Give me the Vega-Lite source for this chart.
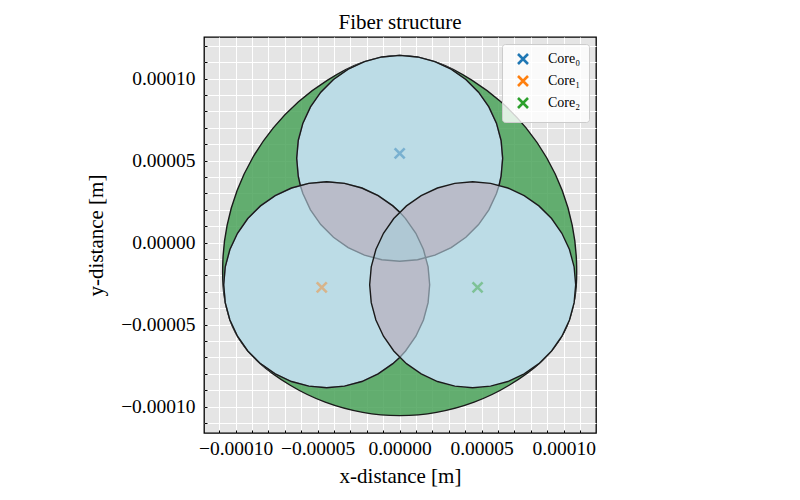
{
"$schema": "https://vega.github.io/schema/vega-lite/v6.json",
"width": 392, "height": 396,
"autosize": {"type": "none"},
"padding": {"left": 204, "top": 37, "right": 204, "bottom": 67},
"title": "Fiber structure",
"datasets": {
"shapes": [
{"s":"CL","o":1,"x":0,"y":-10.55e-5},{"s":"CL","o":2,"x":2.25e-5,"y":-10.353e-5},{"s":"CL","o":3,"x":4.538e-5,"y":-9.73e-5},{"s":"CL","o":4,"x":6.673e-5,"y":-8.699e-5},{"s":"CL","o":5,"x":8.64e-5,"y":-7.25e-5},{"s":"CL","o":6,"x":10.011e-5,"y":-5.49e-5},{"s":"CL","o":7,"x":10.681e-5,"y":-3.362e-5},{"s":"CL","o":8,"x":10.781e-5,"y":-1.15e-5},{"s":"CL","o":9,"x":10.522e-5,"y":1.048e-5},{"s":"CL","o":10,"x":9.911e-5,"y":3.175e-5},{"s":"CL","o":11,"x":8.963e-5,"y":5.175e-5},{"s":"CL","o":12,"x":7.705e-5,"y":6.996e-5},{"s":"CL","o":13,"x":6.169e-5,"y":8.589e-5},{"s":"CL","o":14,"x":4.395e-5,"y":9.912e-5},{"s":"CL","o":15,"x":2.43e-5,"y":10.931e-5},{"s":"CL","o":16,"x":0,"y":11.42e-5},{"s":"CL","o":17,"x":-2.43e-5,"y":10.931e-5},{"s":"CL","o":18,"x":-4.395e-5,"y":9.912e-5},{"s":"CL","o":19,"x":-6.169e-5,"y":8.589e-5},{"s":"CL","o":20,"x":-7.705e-5,"y":6.996e-5},{"s":"CL","o":21,"x":-8.963e-5,"y":5.175e-5},{"s":"CL","o":22,"x":-9.911e-5,"y":3.175e-5},{"s":"CL","o":23,"x":-10.522e-5,"y":1.048e-5},{"s":"CL","o":24,"x":-10.781e-5,"y":-1.15e-5},{"s":"CL","o":25,"x":-10.681e-5,"y":-3.362e-5},{"s":"CL","o":26,"x":-10.011e-5,"y":-5.49e-5},{"s":"CL","o":27,"x":-8.64e-5,"y":-7.25e-5},{"s":"CL","o":28,"x":-6.673e-5,"y":-8.699e-5},{"s":"CL","o":29,"x":-4.538e-5,"y":-9.73e-5},{"s":"CL","o":30,"x":-2.25e-5,"y":-10.353e-5},
{"s":"C0","o":-15.14,"x":6.062e-5,"y":3.4999e-5},{"s":"C0","o":-10,"x":6.1846e-5,"y":4.0495e-5},{"s":"C0","o":0,"x":6.28e-5,"y":5.14e-5},{"s":"C0","o":10,"x":6.1846e-5,"y":6.2305e-5},{"s":"C0","o":20,"x":5.9013e-5,"y":7.2879e-5},{"s":"C0","o":30,"x":5.4387e-5,"y":8.28e-5},{"s":"C0","o":40,"x":4.8107e-5,"y":9.1767e-5},{"s":"C0","o":50,"x":4.0367e-5,"y":9.9507e-5},{"s":"C0","o":60,"x":3.14e-5,"y":10.5787e-5},{"s":"C0","o":70,"x":2.1479e-5,"y":11.0413e-5},{"s":"C0","o":80,"x":1.0905e-5,"y":11.3246e-5},{"s":"C0","o":90,"x":0,"y":11.42e-5},{"s":"C0","o":100,"x":-1.0905e-5,"y":11.3246e-5},{"s":"C0","o":110,"x":-2.1479e-5,"y":11.0413e-5},{"s":"C0","o":120,"x":-3.14e-5,"y":10.5787e-5},{"s":"C0","o":130,"x":-4.0367e-5,"y":9.9507e-5},{"s":"C0","o":140,"x":-4.8107e-5,"y":9.1767e-5},{"s":"C0","o":150,"x":-5.4387e-5,"y":8.28e-5},{"s":"C0","o":160,"x":-5.9013e-5,"y":7.2879e-5},{"s":"C0","o":170,"x":-6.1846e-5,"y":6.2305e-5},{"s":"C0","o":180,"x":-6.28e-5,"y":5.14e-5},{"s":"C0","o":190,"x":-6.1846e-5,"y":4.0495e-5},{"s":"C0","o":195.14,"x":-6.062e-5,"y":3.4999e-5},{"s":"C0","o":200,"x":-5.9013e-5,"y":2.9921e-5},{"s":"C0","o":210,"x":-5.4387e-5,"y":2.0e-5},{"s":"C0","o":220,"x":-4.8107e-5,"y":1.1033e-5},{"s":"C0","o":230,"x":-4.0367e-5,"y":0.3293e-5},{"s":"C0","o":240,"x":-3.14e-5,"y":-0.2987e-5},{"s":"C0","o":250,"x":-2.1479e-5,"y":-0.7613e-5},{"s":"C0","o":260,"x":-1.0905e-5,"y":-1.0446e-5},{"s":"C0","o":270,"x":0,"y":-1.14e-5},{"s":"C0","o":280,"x":1.0905e-5,"y":-1.0446e-5},{"s":"C0","o":290,"x":2.1479e-5,"y":-0.7613e-5},{"s":"C0","o":300,"x":3.14e-5,"y":-0.2987e-5},{"s":"C0","o":310,"x":4.0367e-5,"y":0.3293e-5},{"s":"C0","o":320,"x":4.8107e-5,"y":1.1033e-5},{"s":"C0","o":330,"x":5.4387e-5,"y":2.0e-5},{"s":"C0","o":340,"x":5.9013e-5,"y":2.9921e-5},
{"s":"C1","o":0,"x":1.8286e-5,"y":-2.57e-5},{"s":"C1","o":10,"x":1.7332e-5,"y":-1.4795e-5},{"s":"C1","o":20,"x":1.4499e-5,"y":-0.4221e-5},{"s":"C1","o":30,"x":0.9873e-5,"y":0.57e-5},{"s":"C1","o":40,"x":0.3593e-5,"y":1.4667e-5},{"s":"C1","o":44.86,"x":0,"y":1.8598e-5},{"s":"C1","o":50,"x":-0.4147e-5,"y":2.2407e-5},{"s":"C1","o":60,"x":-1.3114e-5,"y":2.8687e-5},{"s":"C1","o":70,"x":-2.3035e-5,"y":3.3313e-5},{"s":"C1","o":80,"x":-3.3609e-5,"y":3.6146e-5},{"s":"C1","o":90,"x":-4.4514e-5,"y":3.71e-5},{"s":"C1","o":100,"x":-5.5419e-5,"y":3.6146e-5},{"s":"C1","o":110,"x":-6.5993e-5,"y":3.3313e-5},{"s":"C1","o":120,"x":-7.5914e-5,"y":2.8687e-5},{"s":"C1","o":130,"x":-8.4881e-5,"y":2.2407e-5},{"s":"C1","o":140,"x":-9.2621e-5,"y":1.4667e-5},{"s":"C1","o":150,"x":-9.8901e-5,"y":0.57e-5},{"s":"C1","o":160,"x":-10.3527e-5,"y":-0.4221e-5},{"s":"C1","o":170,"x":-10.636e-5,"y":-1.4795e-5},{"s":"C1","o":180,"x":-10.7314e-5,"y":-2.57e-5},{"s":"C1","o":190,"x":-10.636e-5,"y":-3.6605e-5},{"s":"C1","o":200,"x":-10.3527e-5,"y":-4.7179e-5},{"s":"C1","o":210,"x":-9.8901e-5,"y":-5.71e-5},{"s":"C1","o":220,"x":-9.2621e-5,"y":-6.6067e-5},{"s":"C1","o":230,"x":-8.4881e-5,"y":-7.3807e-5},{"s":"C1","o":240,"x":-7.5914e-5,"y":-8.0087e-5},{"s":"C1","o":250,"x":-6.5993e-5,"y":-8.4713e-5},{"s":"C1","o":260,"x":-5.5419e-5,"y":-8.7546e-5},{"s":"C1","o":270,"x":-4.4514e-5,"y":-8.85e-5},{"s":"C1","o":280,"x":-3.3609e-5,"y":-8.7546e-5},{"s":"C1","o":290,"x":-2.3035e-5,"y":-8.4713e-5},{"s":"C1","o":300,"x":-1.3114e-5,"y":-8.0087e-5},{"s":"C1","o":310,"x":-0.4147e-5,"y":-7.3807e-5},{"s":"C1","o":315.14,"x":0,"y":-6.9998e-5},{"s":"C1","o":320,"x":0.3593e-5,"y":-6.6067e-5},{"s":"C1","o":330,"x":0.9873e-5,"y":-5.71e-5},{"s":"C1","o":340,"x":1.4499e-5,"y":-4.7179e-5},{"s":"C1","o":350,"x":1.7332e-5,"y":-3.6605e-5},
{"s":"C2","o":0,"x":10.7314e-5,"y":-2.57e-5},{"s":"C2","o":10,"x":10.636e-5,"y":-1.4795e-5},{"s":"C2","o":20,"x":10.3527e-5,"y":-0.4221e-5},{"s":"C2","o":30,"x":9.8901e-5,"y":0.57e-5},{"s":"C2","o":40,"x":9.2621e-5,"y":1.4667e-5},{"s":"C2","o":50,"x":8.4881e-5,"y":2.2407e-5},{"s":"C2","o":60,"x":7.5914e-5,"y":2.8687e-5},{"s":"C2","o":70,"x":6.5993e-5,"y":3.3313e-5},{"s":"C2","o":80,"x":5.5419e-5,"y":3.6146e-5},{"s":"C2","o":90,"x":4.4514e-5,"y":3.71e-5},{"s":"C2","o":100,"x":3.3609e-5,"y":3.6146e-5},{"s":"C2","o":110,"x":2.3035e-5,"y":3.3313e-5},{"s":"C2","o":120,"x":1.3114e-5,"y":2.8687e-5},{"s":"C2","o":130,"x":0.4147e-5,"y":2.2407e-5},{"s":"C2","o":140,"x":-0.3593e-5,"y":1.4667e-5},{"s":"C2","o":150,"x":-0.9873e-5,"y":0.57e-5},{"s":"C2","o":160,"x":-1.4499e-5,"y":-0.4221e-5},{"s":"C2","o":170,"x":-1.7332e-5,"y":-1.4795e-5},{"s":"C2","o":180,"x":-1.8286e-5,"y":-2.57e-5},{"s":"C2","o":190,"x":-1.7332e-5,"y":-3.6605e-5},{"s":"C2","o":200,"x":-1.4499e-5,"y":-4.7179e-5},{"s":"C2","o":210,"x":-0.9873e-5,"y":-5.71e-5},{"s":"C2","o":220,"x":-0.3593e-5,"y":-6.6067e-5},{"s":"C2","o":230,"x":0.4147e-5,"y":-7.3807e-5},{"s":"C2","o":240,"x":1.3114e-5,"y":-8.0087e-5},{"s":"C2","o":250,"x":2.3035e-5,"y":-8.4713e-5},{"s":"C2","o":260,"x":3.3609e-5,"y":-8.7546e-5},{"s":"C2","o":270,"x":4.4514e-5,"y":-8.85e-5},{"s":"C2","o":280,"x":5.5419e-5,"y":-8.7546e-5},{"s":"C2","o":290,"x":6.5993e-5,"y":-8.4713e-5},{"s":"C2","o":300,"x":7.5914e-5,"y":-8.0087e-5},{"s":"C2","o":310,"x":8.4881e-5,"y":-7.3807e-5},{"s":"C2","o":320,"x":9.2621e-5,"y":-6.6067e-5},{"s":"C2","o":330,"x":9.8901e-5,"y":-5.71e-5},{"s":"C2","o":340,"x":10.3527e-5,"y":-4.7179e-5},{"s":"C2","o":350,"x":10.636e-5,"y":-3.6605e-5},
{"s":"L12","o":0,"x":0,"y":1.8598e-5},{"s":"L12","o":1,"x":0.3593e-5,"y":1.4667e-5},{"s":"L12","o":2,"x":0.9873e-5,"y":0.57e-5},{"s":"L12","o":3,"x":1.4499e-5,"y":-0.4221e-5},{"s":"L12","o":4,"x":1.7332e-5,"y":-1.4795e-5},{"s":"L12","o":5,"x":1.8286e-5,"y":-2.57e-5},{"s":"L12","o":6,"x":1.7332e-5,"y":-3.6605e-5},{"s":"L12","o":7,"x":1.4499e-5,"y":-4.7179e-5},{"s":"L12","o":8,"x":0.9873e-5,"y":-5.71e-5},{"s":"L12","o":9,"x":0.3593e-5,"y":-6.6067e-5},{"s":"L12","o":10,"x":0,"y":-6.9998e-5},{"s":"L12","o":11,"x":-0.3593e-5,"y":-6.6067e-5},{"s":"L12","o":12,"x":-0.9873e-5,"y":-5.71e-5},{"s":"L12","o":13,"x":-1.4499e-5,"y":-4.7179e-5},{"s":"L12","o":14,"x":-1.7332e-5,"y":-3.6605e-5},{"s":"L12","o":15,"x":-1.8286e-5,"y":-2.57e-5},{"s":"L12","o":16,"x":-1.7332e-5,"y":-1.4795e-5},{"s":"L12","o":17,"x":-1.4499e-5,"y":-0.4221e-5},{"s":"L12","o":18,"x":-0.9873e-5,"y":0.57e-5},{"s":"L12","o":19,"x":-0.3593e-5,"y":1.4667e-5},
{"s":"L02","o":0,"x":-1.6106e-5,"y":-0.9299e-5},{"s":"L02","o":1,"x":-1.0905e-5,"y":-1.0446e-5},{"s":"L02","o":2,"x":0,"y":-1.14e-5},{"s":"L02","o":3,"x":1.0905e-5,"y":-1.0446e-5},{"s":"L02","o":4,"x":2.1479e-5,"y":-0.7613e-5},{"s":"L02","o":5,"x":3.14e-5,"y":-0.2987e-5},{"s":"L02","o":6,"x":4.0367e-5,"y":0.3293e-5},{"s":"L02","o":7,"x":4.8107e-5,"y":1.1033e-5},{"s":"L02","o":8,"x":5.4387e-5,"y":2.0e-5},{"s":"L02","o":9,"x":5.9013e-5,"y":2.9921e-5},{"s":"L02","o":10,"x":6.062e-5,"y":3.4999e-5},{"s":"L02","o":11,"x":5.5419e-5,"y":3.6146e-5},{"s":"L02","o":12,"x":4.4514e-5,"y":3.71e-5},{"s":"L02","o":13,"x":3.3609e-5,"y":3.6146e-5},{"s":"L02","o":14,"x":2.3035e-5,"y":3.3313e-5},{"s":"L02","o":15,"x":1.3114e-5,"y":2.8687e-5},{"s":"L02","o":16,"x":0.4147e-5,"y":2.2407e-5},{"s":"L02","o":17,"x":-0.3593e-5,"y":1.4667e-5},{"s":"L02","o":18,"x":-0.9873e-5,"y":0.57e-5},{"s":"L02","o":19,"x":-1.4499e-5,"y":-0.4221e-5},
{"s":"L01","o":0,"x":1.6106e-5,"y":-0.9299e-5},{"s":"L01","o":1,"x":1.0905e-5,"y":-1.0446e-5},{"s":"L01","o":2,"x":0,"y":-1.14e-5},{"s":"L01","o":3,"x":-1.0905e-5,"y":-1.0446e-5},{"s":"L01","o":4,"x":-2.1479e-5,"y":-0.7613e-5},{"s":"L01","o":5,"x":-3.14e-5,"y":-0.2987e-5},{"s":"L01","o":6,"x":-4.0367e-5,"y":0.3293e-5},{"s":"L01","o":7,"x":-4.8107e-5,"y":1.1033e-5},{"s":"L01","o":8,"x":-5.4387e-5,"y":2.0e-5},{"s":"L01","o":9,"x":-5.9013e-5,"y":2.9921e-5},{"s":"L01","o":10,"x":-6.062e-5,"y":3.4999e-5},{"s":"L01","o":11,"x":-5.5419e-5,"y":3.6146e-5},{"s":"L01","o":12,"x":-4.4514e-5,"y":3.71e-5},{"s":"L01","o":13,"x":-3.3609e-5,"y":3.6146e-5},{"s":"L01","o":14,"x":-2.3035e-5,"y":3.3313e-5},{"s":"L01","o":15,"x":-1.3114e-5,"y":2.8687e-5},{"s":"L01","o":16,"x":-0.4147e-5,"y":2.2407e-5},{"s":"L01","o":17,"x":0.3593e-5,"y":1.4667e-5},{"s":"L01","o":18,"x":0.9873e-5,"y":0.57e-5},{"s":"L01","o":19,"x":1.4499e-5,"y":-0.4221e-5},
{"s":"CC","o":0,"x":0,"y":1.8598e-5},{"s":"CC","o":1,"x":0.3593e-5,"y":1.4667e-5},{"s":"CC","o":2,"x":0.9873e-5,"y":0.57e-5},{"s":"CC","o":3,"x":1.4499e-5,"y":-0.4221e-5},{"s":"CC","o":4,"x":1.6106e-5,"y":-0.9299e-5},{"s":"CC","o":5,"x":1.0905e-5,"y":-1.0446e-5},{"s":"CC","o":6,"x":0,"y":-1.14e-5},{"s":"CC","o":7,"x":-1.0905e-5,"y":-1.0446e-5},{"s":"CC","o":8,"x":-1.6106e-5,"y":-0.9299e-5},{"s":"CC","o":9,"x":-1.4499e-5,"y":-0.4221e-5},{"s":"CC","o":10,"x":-0.9873e-5,"y":0.57e-5},{"s":"CC","o":11,"x":-0.3593e-5,"y":1.4667e-5}
],
"cores": [
{"core":"Core₀","x":0,"y":5.445e-5},
{"core":"Core₁","x":-4.75e-5,"y":-2.73e-5},
{"core":"Core₂","x":4.75e-5,"y":-2.73e-5}
]
},
"encoding": {
"x": {"field": "x", "type": "quantitative",
 "scale": {"domain": [-0.0001193, 0.0001197], "nice": false, "zero": false},
 "axis": {"title": "x-distance [m]", "format": ".5f",
  "values": [-0.00011,-0.0001,-0.00009,-0.00008,-0.00007,-0.00006,-0.00005,-0.00004,-0.00003,-0.00002,-0.00001,0,0.00001,0.00002,0.00003,0.00004,0.00005,0.00006,0.00007,0.00008,0.00009,0.0001,0.00011],
  "labelExpr": "abs(datum.value * 20000 - round(datum.value * 20000)) < 0.001 ? datum.label : ''",
  "tickSize": -3, "labelPadding": 9, "titlePadding": 8}},
"y": {"field": "y", "type": "quantitative",
 "scale": {"domain": [-0.0001161, 0.0001254], "nice": false, "zero": false},
 "axis": {"title": "y-distance [m]", "format": ".5f",
  "values": [-0.00011,-0.0001,-0.00009,-0.00008,-0.00007,-0.00006,-0.00005,-0.00004,-0.00003,-0.00002,-0.00001,0,0.00001,0.00002,0.00003,0.00004,0.00005,0.00006,0.00007,0.00008,0.00009,0.0001,0.00011,0.00012],
  "labelExpr": "abs(datum.value * 20000 - round(datum.value * 20000)) < 0.001 ? datum.label : ''",
  "tickSize": -3, "labelPadding": 12, "titlePadding": 14}}
},
"layer": [
{"data": {"name": "cores"},
 "mark": {"type": "point", "shape": "M-1,-1L1,1M-1,1L1,-1", "filled": false, "size": 100, "strokeWidth": 2.6},
 "encoding": {"color": {"field": "core", "type": "nominal",
   "scale": {"domain": ["Core₀","Core₁","Core₂"], "range": ["#1f77b4","#ff7f0e","#2ca02c"]},
   "legend": {"title": null}}}},
{"data": {"name": "shapes"}, "transform": [{"filter": "datum.s === 'CL'"}],
 "mark": {"type": "line", "interpolate": "cardinal-closed", "fill": "#4ba35b", "fillOpacity": 0.85, "stroke": "#1a1a1a", "strokeWidth": 1.4},
 "encoding": {"order": {"field": "o", "type": "quantitative"}, "detail": {"field": "s"}}},
{"data": {"name": "shapes"}, "transform": [{"filter": {"field": "s", "oneOf": ["C0","C1","C2"]}}],
 "mark": {"type": "line", "interpolate": "linear-closed", "fill": "#bcdce6", "stroke": "#bcdce6", "strokeWidth": 0.5},
 "encoding": {"order": {"field": "o", "type": "quantitative"}, "detail": {"field": "s"}}},
{"data": {"name": "shapes"}, "transform": [{"filter": {"field": "s", "oneOf": ["L01","L02","L12"]}}],
 "mark": {"type": "line", "interpolate": "linear-closed", "fill": "#b9bcc9", "stroke": "#b9bcc9", "strokeWidth": 0.5},
 "encoding": {"order": {"field": "o", "type": "quantitative"}, "detail": {"field": "s"}}},
{"data": {"name": "shapes"}, "transform": [{"filter": "datum.s === 'CC'"}],
 "mark": {"type": "line", "interpolate": "linear-closed", "fill": "#afc8d4", "stroke": "#afc8d4", "strokeWidth": 0.5},
 "encoding": {"order": {"field": "o", "type": "quantitative"}, "detail": {"field": "s"}}},
{"data": {"name": "shapes"}, "transform": [{"filter": {"field": "s", "oneOf": ["C0","C1"]}}],
 "mark": {"type": "line", "interpolate": "linear-closed", "stroke": "#7a8994", "strokeWidth": 1.4},
 "encoding": {"order": {"field": "o", "type": "quantitative"}, "detail": {"field": "s"}}},
{"data": {"name": "shapes"}, "transform": [{"filter": "datum.s === 'C2'"}],
 "mark": {"type": "line", "interpolate": "linear-closed", "stroke": "#1a1a1a", "strokeWidth": 1.4},
 "encoding": {"order": {"field": "o", "type": "quantitative"}, "detail": {"field": "s"}}},
{"data": {"name": "shapes"}, "transform": [{"filter": "(datum.s === 'C0' && datum.o <= 195.2) || (datum.s === 'C1' && datum.o >= 44.8 && datum.o <= 315.2)"}],
 "mark": {"type": "line", "interpolate": "linear", "stroke": "#1a1a1a", "strokeWidth": 1.4},
 "encoding": {"order": {"field": "o", "type": "quantitative"}, "detail": {"field": "s"}}},
{"data": {"name": "cores"},
 "mark": {"type": "point", "shape": "M-1,-1L1,1M-1,1L1,-1", "filled": false, "size": 100, "strokeWidth": 2.6, "strokeOpacity": 0.6},
 "encoding": {"stroke": {"field": "core", "type": "nominal",
   "scale": {"domain": ["Core₀","Core₁","Core₂"], "range": ["#1f77b4","#ff7f0e","#2ca02c"]}, "legend": null}}}
],
"resolve": {"scale": {"stroke": "independent"}},
"config": {
 "view": {"fill": "#e5e5e5", "stroke": "black", "strokeWidth": 1.3},
 "font": "Liberation Serif",
 "title": {"font": "Liberation Serif", "fontSize": 21, "fontWeight": "normal", "color": "black", "offset": 3},
 "axis": {"domain": false, "grid": true, "gridColor": "white", "gridWidth": 1, "gridOpacity": 1,
  "tickColor": "black", "tickWidth": 1,
  "labelFont": "Liberation Serif", "labelFontSize": 19.5, "labelColor": "black",
  "titleFont": "Liberation Serif", "titleFontSize": 21, "titleFontWeight": "normal", "titleColor": "black",
  "labelFlush": false, "labelOverlap": false},
 "legend": {"orient": "top-right", "offset": 7, "fillColor": "rgba(255,255,255,0.8)", "strokeColor": "#cccccc",
  "cornerRadius": 3, "padding": 8, "labelFont": "Liberation Serif", "labelFontSize": 14, "labelColor": "black",
  "symbolSize": 100, "symbolStrokeWidth": 2.6, "symbolType": "M-1,-1L1,1M-1,1L1,-1", "symbolOpacity": 1, "rowPadding": 0, "labelOffset": 18, "symbolOffset": 6}
}
}
